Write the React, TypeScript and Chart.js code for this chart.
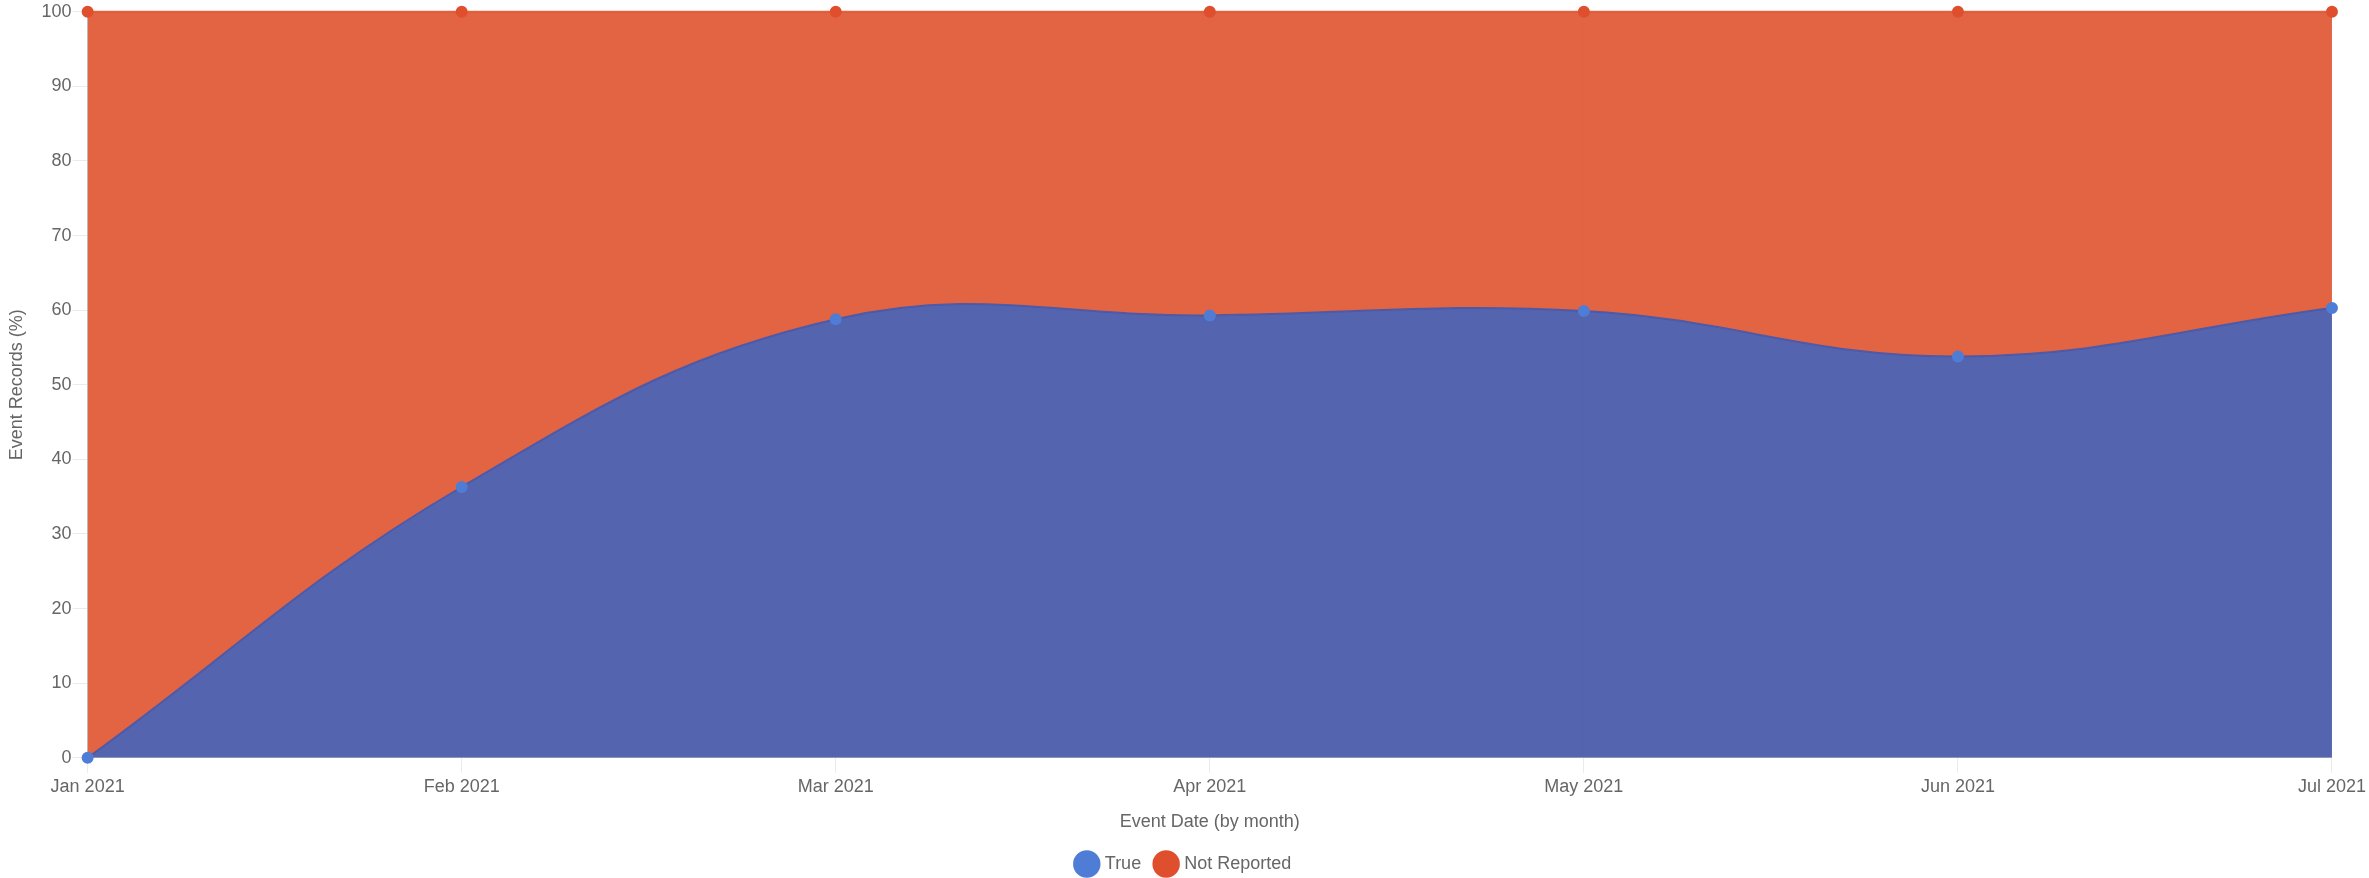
import React, { useEffect, useRef } from "react";
import { Chart, registerables } from "chart.js";

Chart.register(...registerables);

const categories = ["Jan 2021", "Feb 2021", "Mar 2021", "Apr 2021", "May 2021", "Jun 2021", "Jul 2021"];
const trueValues = [0, 36.3, 58.8, 59.3, 59.9, 53.8, 60.3];
const notReportedValues = [100, 63.7, 41.2, 40.7, 40.1, 46.2, 39.7];
const yTicks = [0, 10, 20, 30, 40, 50, 60, 70, 80, 90, 100];

const FONT = "'Liberation Sans', Arial, Helvetica, sans-serif";

export default function App() {
  const ref = useRef<HTMLCanvasElement | null>(null);

  useEffect(() => {
    document.body.style.margin = "0";
    const canvas = ref.current;
    if (!canvas) return;
    const chart = new Chart(canvas, {
      type: "line",
      data: {
        labels: categories,
        datasets: [
          {
            label: "True",
            data: trueValues,
            backgroundColor: "rgba(72, 88, 169, 0.93)",
            borderColor: "rgba(72, 88, 169, 0.93)",
            borderWidth: 2,
            pointBackgroundColor: "#4F7DD6",
            pointBorderColor: "#4F7DD6",
            pointRadius: 5,
            tension: 0.4,
            fill: "origin",
            clip: false,
          },
          {
            label: "Not Reported",
            data: notReportedValues,
            backgroundColor: "rgba(224, 87, 51, 0.92)",
            borderColor: "rgba(224, 87, 51, 0.92)",
            borderWidth: 2,
            pointBackgroundColor: "#E04F2D",
            pointBorderColor: "#E04F2D",
            pointRadius: 5,
            tension: 0.4,
            fill: "-1",
            clip: false,
          },
        ],
      },
      options: {
        animation: false,
        responsive: false,
        maintainAspectRatio: false,
        layout: { padding: { top: 6, left: 0, right: 0, bottom: -5 } },
        plugins: {
          legend: {
            position: "bottom",
            labels: {
              usePointStyle: true,
              pointStyle: "circle",
              color: "#666",
              font: { family: FONT, size: 18 },
              padding: 16,
            },
          },
          tooltip: { enabled: false },
        },
        scales: {
          x: {
            grid: { color: "rgba(0,0,0,0.08)", tickLength: 15, drawOnChartArea: true },
            border: { color: "rgba(0,0,0,0.2)" },
            ticks: {
              color: "#666",
              font: { family: FONT, size: 18 },
              maxRotation: 0,
              padding: 3,
            },
            title: {
              display: true,
              text: "Event Date (by month)",
              color: "#666",
              font: { family: FONT, size: 18 },
              padding: { top: 11, bottom: 6 },
            },
          },
          y: {
            stacked: true,
            min: 0,
            max: 100,
            afterBuildTicks: (axis: any) => {
              axis.ticks = yTicks.map((v) => ({ value: v }));
            },
            grid: { color: "rgba(0,0,0,0.08)", tickLength: 15 },
            border: { color: "rgba(0,0,0,0.2)" },
            ticks: {
              color: "#666",
              font: { family: FONT, size: 18 },
              padding: 1,
            },
            title: {
              display: true,
              text: "Event Records (%)",
              color: "#666",
              font: { family: FONT, size: 18 },
              padding: { top: 6, bottom: 13 },
            },
          },
        },
      },
    } as any);
    return () => chart.destroy();
  }, []);

  return (
    <div style={{ width: 2369, height: 878 }}>
      <canvas ref={ref} width={2369} height={878} style={{ display: "block" }} />
    </div>
  );
}
